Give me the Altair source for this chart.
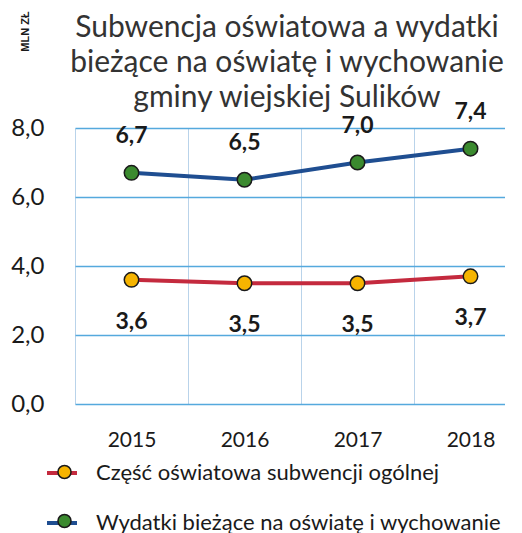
import altair as alt
import pandas as pd

years = ["2015", "2016", "2017", "2018"]
series_names = ["Część oświatowa subwencji ogólnej", "Wydatki bieżące na oświatę i wychowanie"]
subwencja = [3.6, 3.5, 3.5, 3.7]
wydatki = [6.7, 6.5, 7.0, 7.4]
y_ticks = [0, 2, 4, 6, 8]
title_lines = ["Subwencja oświatowa a wydatki", "bieżące na oświatę i wychowanie", "gminy wiejskiej Sulików"]

line_colors = ["#c42a3e", "#1f4e91"]
point_colors = ["#f6b400", "#3b8a2f"]

rows = []
for name, vals in zip(series_names, [subwencja, wydatki]):
    for yr, v in zip(years, vals):
        rows.append({"year": yr, "series": name, "value": v})
df = pd.DataFrame(rows)

FONT = "Lato"

x_enc = alt.X("year:O", title=None, sort=years,
              scale=alt.Scale(paddingInner=0, paddingOuter=0),
              axis=alt.Axis(labelAngle=0, ticks=False, domain=False, grid=True, tickBand="extent",
                            gridColor="#b9d3ea", gridWidth=1, labelFontSize=21, labelFont=FONT,
                            labelColor="#1a1a1a", labelPadding=25))
y_enc = alt.Y("value:Q", scale=alt.Scale(domain=[0, 8], nice=False),
              axis=alt.Axis(values=y_ticks, ticks=False, domain=False, grid=True,
                            gridColor="#55a9dd", gridWidth=1.5,
                            labelExpr="replace(format(datum.value, '.1f'), '.', ',')",
                            labelFontSize=24, labelFont=FONT, labelColor="#1a1a1a", labelPadding=31,
                            title="MLN ZŁ", titleAngle=270, titleX=-50, titleY=-97,
                            titleFont="Liberation Sans", titleFontSize=11, titleFontWeight="bold",
                            titleColor="#1a1a1a", titleAlign="center", titleBaseline="middle"))

base = alt.Chart(df).encode(x=x_enc, y=y_enc)

lines = base.mark_line(strokeWidth=4).encode(
    color=alt.Color("series:N", scale=alt.Scale(domain=series_names, range=line_colors),
                    legend=alt.Legend(title=None, orient="none", legendX=-25, legendY=333,
                                      direction="vertical", symbolType="M-1.5,0H1.5", symbolSize=400,
                                      symbolStrokeWidth=4, labelFontSize=22, labelFont=FONT,
                                      labelColor="#1a1a1a", labelOffset=22, rowPadding=27,
                                      labelLimit=600, padding=0))
)

points = base.mark_circle(size=210, opacity=1, stroke="#1a1a1a", strokeWidth=1.5).encode(
    fill=alt.Fill("series:N", scale=alt.Scale(domain=series_names, range=point_colors),
                  legend=alt.Legend(title=None, orient="none", legendX=-25, legendY=333,
                                    direction="vertical", symbolType="circle", symbolSize=170,
                                    symbolStrokeColor="#1a1a1a", symbolStrokeWidth=1.5,
                                    symbolOffset=3.5, labelFontSize=22, labelFont=FONT,
                                    labelColor="transparent", labelOffset=22, rowPadding=27,
                                    labelLimit=600, padding=0))
)

label_text = "replace(format(datum.value, '.1f'), '.', ',')"
top_labels = base.transform_filter(alt.datum.series == series_names[1]).transform_calculate(
    lab=label_text).mark_text(dy=-37, fontSize=23, fontWeight="bold", font=FONT, color="#1a1a1a").encode(
    text="lab:N")
bottom_labels = base.transform_filter(alt.datum.series == series_names[0]).transform_calculate(
    lab=label_text).mark_text(dy=42, fontSize=23, fontWeight="bold", font=FONT, color="#1a1a1a").encode(
    text="lab:N")

chart = alt.layer(lines, points, top_labels, bottom_labels).resolve_legend(
    color="independent", fill="independent"
).properties(
    width=452, height=276,
    padding={"left": 2, "top": 2, "right": -22, "bottom": 0},
    title=alt.TitleParams(title_lines, fontSize=30, font=FONT, color="#333333", fontWeight="normal",
                          lineHeight=35, anchor="middle", dx=-14, offset=-102),
).configure_view(stroke=None)

chart.save("out.html", embed_options={"renderer": "svg", "actions": False})
